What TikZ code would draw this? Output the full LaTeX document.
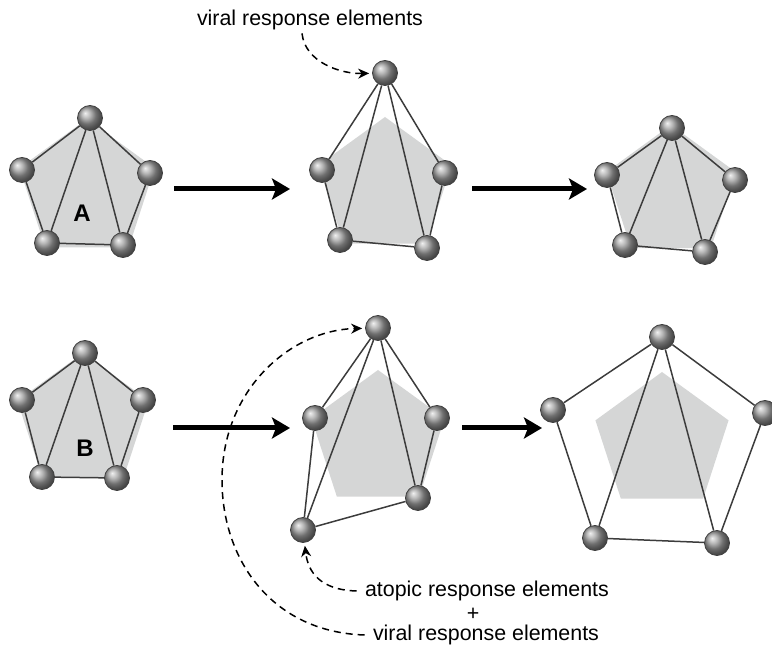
\documentclass[tikz,border=0pt]{standalone}
\usepackage{fontspec}
\setmainfont{Liberation Sans}
\usetikzlibrary{arrows.meta, shapes.geometric}
\definecolor{padgray}{RGB}{213,214,214}
\definecolor{edgegray}{RGB}{60,60,60}
\tikzset{
	ball/.style={circle, minimum size=12.5pt, inner sep=0pt, shading=ball, ball color=black!38, draw=black!75, line width=0.4pt}
}
\tikzset{
	pad/.style={regular polygon, regular polygon sides=5, fill=padgray, inner sep=0pt, outer sep=0pt}
}
\tikzset{
	link/.style={draw=edgegray, line width=0.75pt}
}
\tikzset{
	bigarrow/.style={line width=2.5pt, -{Stealth[length=9pt,width=10.5pt,inset=2pt]}}
}
\tikzset{
	callout/.style={dash pattern=on 3.5pt off 2.5pt, line width=0.75pt, -{Stealth[length=5.5pt,width=5pt]}, shorten >=1.5pt}
}
\tikzset{
	labeltext/.style={font=\fontsize{10.7}{12}\selectfont, inner sep=0pt}
}

\begin{document}
\begin{tikzpicture}[x=0.5pt, y=-0.5pt]
  \useasboundingbox (0,0) rectangle (772,646);
  % grey pentagons under the graphs
  \foreach \n/\x/\y/\r in {a1/87/190/71, a2/385/187/70, a3/671/193/68,
                           b1/83/422/69, b2/378/440/70, b3/662/442/70}
    \node[pad, minimum size=\r pt] (pad-\n) at (\x,\y) {};
  % balls
  \foreach \n/\x/\y in {
    a1-t/90/118, a1-l/22/170, a1-r/150/173, a1-bl/47/243, a1-br/123/245,
    a2-t/385/73, a2-l/322/170, a2-r/445/173, a2-bl/340/240, a2-br/427/248,
    a3-t/672/128, a3-l/607/175, a3-r/735/180, a3-bl/625/245, a3-br/705/252,
    b1-t/85/353, b1-l/22/400, b1-r/143/400, b1-bl/42/477, b1-br/117/478,
    b2-t/378/328, b2-l/315/418, b2-r/437/418, b2-bl/303/530, b2-br/418/498,
    b3-t/662/337, b3-l/553/410, b3-r/765/413, b3-bl/595/538, b3-br/717/543}
    \node[ball] (\n) at (\x,\y) {};
  % links
  \foreach \s in {a1,a2,a3,b1,b2,b3}
    \draw[link] (\s-t) -- (\s-l) -- (\s-bl) -- (\s-br) -- (\s-r) -- (\s-t) -- (\s-bl)
                (\s-t) -- (\s-br);
  \node[font=\bfseries\fontsize{12}{14}\selectfont] (lbl-a) at (82,213) {A};
  \node[font=\bfseries\fontsize{12}{14}\selectfont] (lbl-b) at (85,448) {B};
  % big arrows
  \foreach \i/\xa/\xb/\y in {1/174/290/189, 2/472/587/189, 3/173/290/428, 4/462/542/428} {
    \coordinate (arr\i-s) at (\xa,\y);
    \coordinate (arr\i-e) at (\xb,\y);
    \draw[bigarrow] (arr\i-s) -- (arr\i-e);
  }
  % texts
  \node[labeltext] (lbl-top) at (310,20) {viral response elements};
  \node[labeltext] (lbl-atopic) at (487,591) {atopic response elements};
  \node[labeltext] (lbl-plus) at (473,614) {+};
  \node[labeltext] (lbl-viral) at (486,635) {viral response elements};
  % dashed pointers
  \draw[callout] ([xshift=-4pt,yshift=-1.5pt]lbl-top.south) .. controls (305,62) and (340,74) .. (a2-t);
  \draw[callout] ([xshift=-4pt]lbl-atopic.west) .. controls (320,590) and (308,572) .. (b2-bl);
  \draw[callout] ([xshift=-4pt]lbl-viral.west) .. controls (272,632) and (222,560) .. (222,480)
                 .. controls (222,390) and (290,330) .. (b2-t);
\end{tikzpicture}
\end{document}
